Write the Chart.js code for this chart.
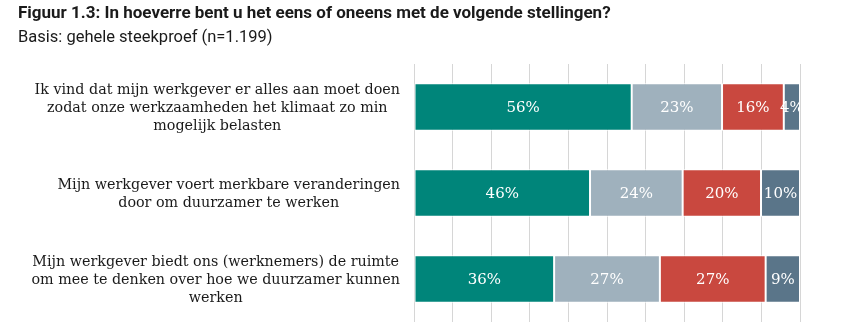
<!DOCTYPE html>
<html>
<head>
<meta charset="utf-8">
<script src="https://cdn.jsdelivr.net/npm/chart.js@4"></script>
<style>
  body { margin: 0; background: #fff; }
  #wrap { position: relative; width: 856px; height: 322px; overflow: hidden; }
  #title { position: absolute; left: 18px; top: 2px; font: bold 17px Roboto; color: #1a1a1a; white-space: nowrap; }
  #sub { position: absolute; left: 18px; top: 27px; font: 16.5px Roboto; color: #1a1a1a; white-space: nowrap; }
  canvas { position: absolute; left: 0; top: 0; }
</style>
</head>
<body>
<div id="wrap">
  <canvas id="myChart" width="856" height="322"></canvas>
  <div id="title">Figuur 1.3: In hoeverre bent u het eens of oneens met de volgende stellingen?</div>
  <div id="sub">Basis: gehele steekproef (n=1.199)</div>
</div>
<script>
const categories = [
    ["Ik vind dat mijn werkgever er alles aan moet doen", "zodat onze werkzaamheden het klimaat zo min", "mogelijk belasten"],
    ["Mijn werkgever voert merkbare veranderingen", "door om duurzamer te werken"],
    ["Mijn werkgever biedt ons (werknemers) de ruimte", "om mee te denken over hoe we duurzamer kunnen", "werken"]
]
const seriesNames = ["Eens", "Neutraal", "Oneens", "Weet niet"]
const eens = [56.4, 45.6, 36.3]
const neutraal = [23.4, 24.0, 27.4]
const oneens = [16.0, 20.3, 27.4]
const weetNiet = [4.2, 10.1, 8.9]
const xTicks = [0, 10, 20, 30, 40, 50, 60, 70, 80, 90, 100]

const colors = ["#00857a", "#9fb1bd", "#c9483f", "#5a7589"]

// white % labels inside the bars
const barLabels = {
    id: "barLabels",
    afterDatasetsDraw(chart) {
        const ctx = chart.ctx
        const area = chart.chartArea
        ctx.save()
        ctx.beginPath()
        ctx.rect(area.left, area.top, area.right - area.left, area.bottom - area.top)
        ctx.clip()
        ctx.font = "15px 'DejaVu Serif'"
        ctx.fillStyle = "#fff"
        ctx.textAlign = "center"
        ctx.textBaseline = "middle"
        chart.data.datasets.forEach((ds, i) => {
            const meta = chart.getDatasetMeta(i)
            meta.data.forEach((bar, j) => {
                const cx = (bar.x + bar.base) / 2
                ctx.fillText(Math.round(ds.data[j]) + "%", cx, bar.y + 1)
            })
        })
        ctx.restore()
    }
}

// category labels, each block centred on its own widest line, right edge at 400
const catLabels = {
    id: "catLabels",
    afterDraw(chart) {
        const ctx = chart.ctx
        const yScale = chart.scales.y
        ctx.save()
        ctx.font = "14.3px 'DejaVu Serif'"
        ctx.fillStyle = "#1a1a1a"
        ctx.textAlign = "center"
        ctx.textBaseline = "middle"
        const lineH = 18
        categories.forEach((lines, i) => {
            const y = yScale.getPixelForValue(i) + 1
            let widest = 0
            lines.forEach(l => { widest = Math.max(widest, ctx.measureText(l).width) })
            const cx = 400 - widest / 2
            const y0 = y - (lines.length - 1) * lineH / 2
            lines.forEach((l, k) => ctx.fillText(l, cx, y0 + k * lineH))
        })
        ctx.restore()
    }
}

const ctx = document.getElementById("myChart").getContext("2d")
const myChart = new Chart(ctx, {
    type: "bar",
    data: {
        labels: categories.map(c => c.join(" ")),
        datasets: [eens, neutraal, oneens, weetNiet].map((d, i) => ({
            label: seriesNames[i],
            data: d,
            backgroundColor: colors[i],
            borderColor: "#fff",
            borderWidth: 1,
            borderSkipped: false,
            barPercentage: 0.55,
            categoryPercentage: 1
        }))
    },
    options: {
        indexAxis: "y",
        responsive: false,
        animation: false,
        layout: { padding: { left: 406, right: 56, top: 64, bottom: 0 } },
        plugins: {
            legend: { display: false },
            tooltip: { enabled: false }
        },
        scales: {
            x: {
                stacked: true,
                min: 0,
                max: 100,
                afterBuildTicks: axis => { axis.ticks = xTicks.map(v => ({ value: v })) },
                ticks: { display: false },
                grid: { color: "#d6d6d6", lineWidth: 1, drawTicks: false, tickLength: 0 },
                border: { display: false }
            },
            y: {
                stacked: true,
                ticks: { display: false },
                grid: { display: false },
                border: { display: false }
            }
        }
    },
    plugins: [barLabels, catLabels]
})
</script>
</body>
</html>
